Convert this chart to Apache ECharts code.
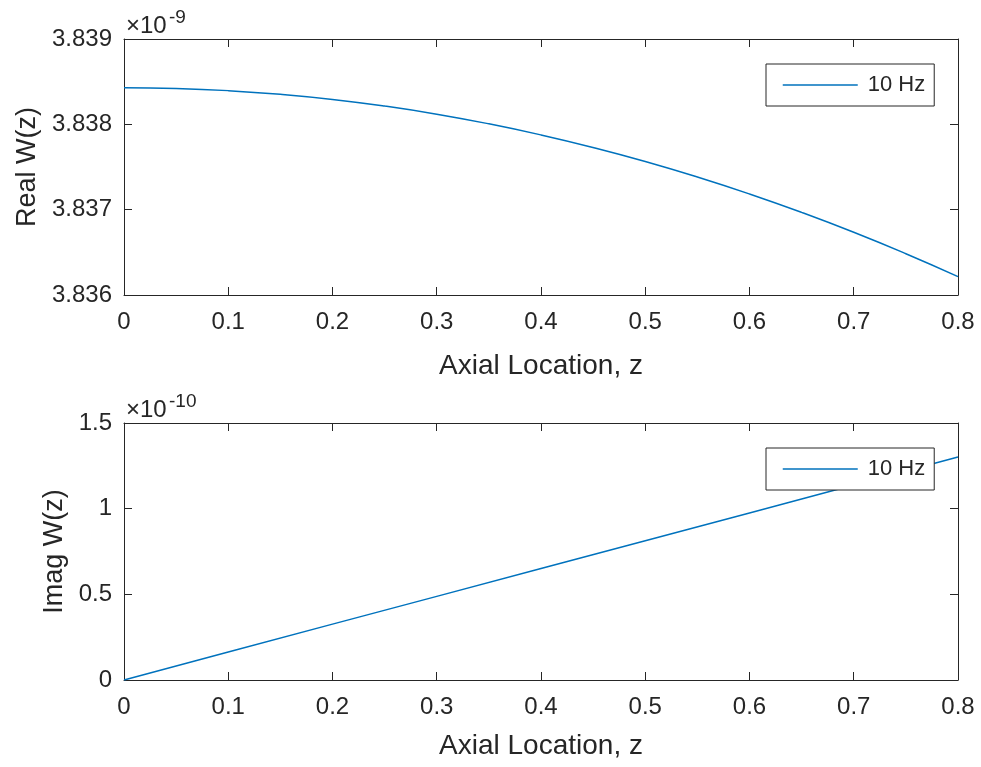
<!DOCTYPE html>
<html>
<head>
<meta charset="utf-8">
<title>W(z) along the axial location</title>
<script src="https://cdn.jsdelivr.net/npm/echarts@6/dist/echarts.min.js"></script>
<style>
  html, body { margin: 0; padding: 0; background: #fff; }
  #chart { width: 981px; height: 767px; }
</style>
</head>
<body>
<div id="chart"></div>
<script>
// Axial positions of the real-part samples
const axialZ = [0, 0.05, 0.1, 0.15, 0.2, 0.25, 0.3, 0.35, 0.4, 0.45, 0.5, 0.55, 0.6, 0.65, 0.7, 0.75, 0.8];
// Real W(z), in units of 1e-9
const realW = [3.83843, 3.838421, 3.838395, 3.838352, 3.838292, 3.838214, 3.838119, 3.838006, 3.837876,
               3.837729, 3.837565, 3.837383, 3.837184, 3.836968, 3.836735, 3.836484, 3.836216];
// Axial positions of the imaginary-part samples
const imagZ = [0, 0.1, 0.2, 0.3, 0.4, 0.5, 0.6, 0.7, 0.8];
// Imag W(z), in units of 1e-10
const imagW = [0, 0.163, 0.326, 0.488, 0.651, 0.813, 0.975, 1.138, 1.301];

// Tick values
const zTicks = [0, 0.1, 0.2, 0.3, 0.4, 0.5, 0.6, 0.7, 0.8];
const realTicks = [3.836, 3.837, 3.838, 3.839];
const imagTicks = [0, 0.5, 1, 1.5];

const seriesName = '10 Hz';
const xTitle = 'Axial Location, z';
const realTitle = 'Real W(z)';
const imagTitle = 'Imag W(z)';
const realExp = '-9';
const imagExp = '-10';

const FONT = '"Liberation Sans", Arial, Helvetica, sans-serif';
const INK = '#262626';
const BLUE = '#0072BD';

const grids = [
  { left: 124, top: 39, width: 834, height: 256 },
  { left: 124, top: 423, width: 834, height: 257 }
];

function tickSpec(ticks) {
  return { min: ticks[0], max: ticks[ticks.length - 1], interval: ticks[1] - ticks[0] };
}

function xAxes(gi, gap) {
  const t = tickSpec(zTicks);
  const base = {
    type: 'value', gridIndex: gi, min: t.min, max: t.max, interval: t.interval,
    splitLine: { show: false },
    axisLine: { show: true, onZero: false, lineStyle: { color: INK, width: 1 } },
    axisTick: { show: true, inside: true, length: 8, lineStyle: { color: INK, width: 1 } }
  };
  return [
    Object.assign({}, base, {
      position: 'bottom',
      axisLabel: {
        color: INK, fontSize: 24, fontFamily: FONT, margin: 15,
        formatter: v => String(Math.round(v * 10) / 10)
      },
      name: xTitle, nameLocation: 'middle', nameGap: gap,
      nameTextStyle: { color: INK, fontSize: 28, fontFamily: FONT }
    }),
    Object.assign({}, base, { position: 'top', axisLabel: { show: false } })
  ];
}

function yAxes(gi, ticks, title, gap, fmt) {
  const t = tickSpec(ticks);
  const base = {
    type: 'value', gridIndex: gi, min: t.min, max: t.max, interval: t.interval,
    splitLine: { show: false },
    axisLine: { show: true, onZero: false, lineStyle: { color: INK, width: 1 } },
    axisTick: { show: true, inside: true, length: 8, lineStyle: { color: INK, width: 1 } }
  };
  return [
    Object.assign({}, base, {
      position: 'left',
      axisLabel: { color: INK, fontSize: 24, fontFamily: FONT, margin: 12, formatter: fmt },
      name: title, nameLocation: 'middle', nameGap: gap,
      nameTextStyle: { color: INK, fontSize: 27, fontFamily: FONT }
    }),
    Object.assign({}, base, { position: 'right', axisLabel: { show: false } })
  ];
}

function legendFor(top) {
  return {
    left: 766, top: top,
    data: [seriesName],
    selectedMode: false,
    backgroundColor: '#fff',
    borderColor: INK, borderWidth: 1,
    padding: [10, 9, 10, 16],
    itemWidth: 75, itemHeight: 21,
    itemStyle: { opacity: 0 },
    lineStyle: { color: BLUE, width: 1.5 },
    textStyle: { color: INK, fontSize: 22, lineHeight: 21, fontFamily: FONT, padding: [0, 0, 0, 5] }
  };
}

function exponent(gi, exp) {
  const g = grids[gi];
  return [
    { type: 'text', left: g.left + 2, top: g.top - 25,
      style: { text: '×10', fill: INK, font: '24px ' + FONT } },
    { type: 'text', left: g.left + 45, top: g.top - 31,
      style: { text: exp, fill: INK, font: '19px ' + FONT } }
  ];
}

const chart = echarts.init(document.getElementById('chart'), null, { renderer: 'canvas' });

chart.setOption({
  backgroundColor: '#fff',
  animation: false,
  grid: grids,
  xAxis: [].concat(xAxes(0, 57), xAxes(1, 52)),
  yAxis: [].concat(
    yAxes(0, realTicks, realTitle, 82, v => v.toFixed(3)),
    yAxes(1, imagTicks, imagTitle, 56, v => String(v))
  ),
  legend: [legendFor(64), legendFor(448)],
  graphic: [].concat(exponent(0, realExp), exponent(1, imagExp)),
  series: [
    {
      name: seriesName, type: 'line', xAxisIndex: 0, yAxisIndex: 0,
      data: axialZ.map((z, i) => [z, realW[i]]),
      symbol: 'none', smooth: true,
      lineStyle: { color: BLUE, width: 1.5 }, itemStyle: { color: BLUE }
    },
    {
      name: seriesName, type: 'line', xAxisIndex: 2, yAxisIndex: 2,
      data: imagZ.map((z, i) => [z, imagW[i]]),
      symbol: 'none',
      lineStyle: { color: BLUE, width: 1.5 }, itemStyle: { color: BLUE }
    }
  ]
});
</script>
</body>
</html>
